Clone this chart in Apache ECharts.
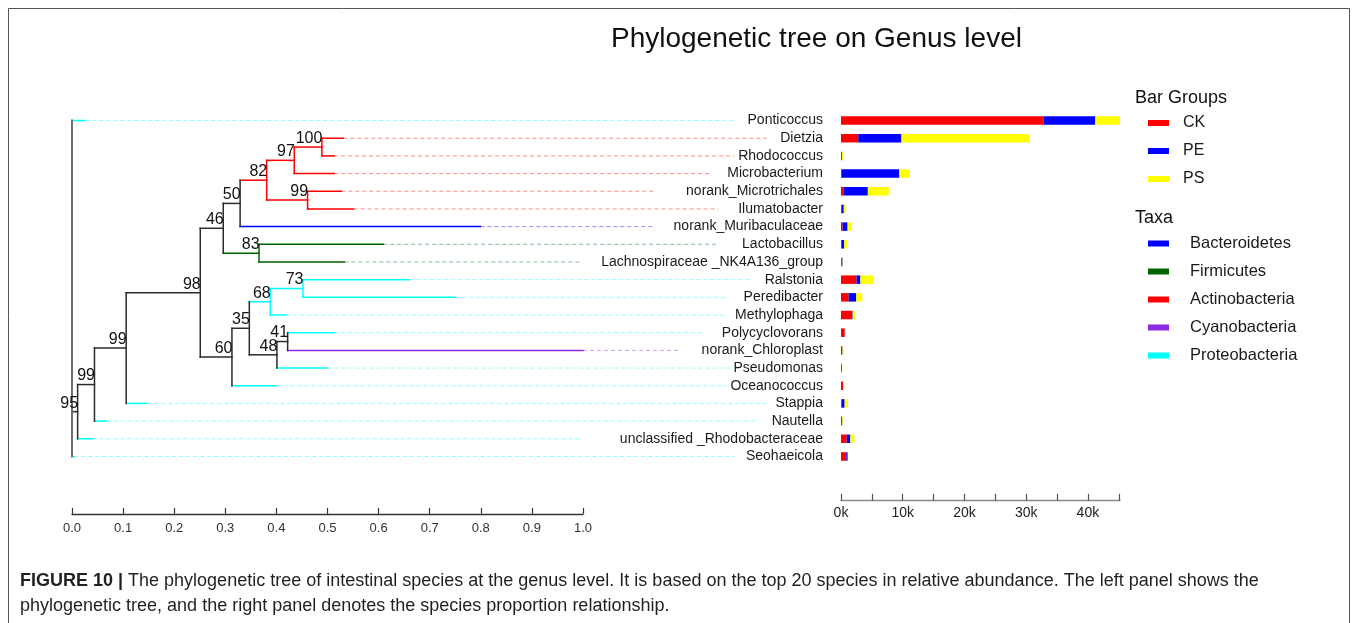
<!DOCTYPE html>
<html><head><meta charset="utf-8">
<script src="https://cdn.jsdelivr.net/npm/echarts@6/dist/echarts.min.js"></script>
<style>html,body{margin:0;padding:0;background:#fff}#c{width:1358px;height:623px}</style>
</head><body><div id="c"></div>
<script>
// ---------------- DATA ----------------
const genera = ['Ponticoccus','Dietzia','Rhodococcus','Microbacterium','norank_Microtrichales','Ilumatobacter',
  'norank_Muribaculaceae','Lactobacillus','Lachnospiraceae _NK4A136_group','Ralstonia','Peredibacter','Methylophaga',
  'Polycyclovorans','norank_Chloroplast','Pseudomonas','Oceanococcus','Stappia','Nautella',
  'unclassified _Rhodobacteraceae','Seohaeicola'];
const phyla = ['Proteobacteria','Actinobacteria','Actinobacteria','Actinobacteria','Actinobacteria','Actinobacteria',
  'Bacteroidetes','Firmicutes','Firmicutes','Proteobacteria','Proteobacteria','Proteobacteria',
  'Proteobacteria','Cyanobacteria','Proteobacteria','Proteobacteria','Proteobacteria','Proteobacteria',
  'Proteobacteria','Proteobacteria'];
const groupNames = ['CK','PE','PS'];
const ckValues = [32800, 2800, 150, 150, 450, 150, 270, 150, 100, 2500, 1240, 1670, 600, 200, 50, 320, 100, 50, 920, 860];
const peValues = [8400, 7000, 20, 9300, 3900, 300, 800, 380, 150, 650, 1240, 220, 30, 50, 100, 30, 490, 150, 600, 220];
const psValues = [4000, 20700, 150, 1700, 3400, 300, 600, 430, 50, 2150, 970, 430, 160, 150, 50, 160, 540, 100, 650, 20];
const taxaNames = ['Bacteroidetes','Firmicutes','Actinobacteria','Cyanobacteria','Proteobacteria'];
const treeTickStep = 0.1;
const barTickStep = 5000;
// tree: [bootstrap label, node distance, children]; leaves: [genus, branch end]
const tree = ['', 0.0, [
  ['Ponticoccus', 0.026],
  ['95', 0.011, [
    ['99', 0.044, [
      ['99', 0.106, [
        ['98', 0.251, [
          ['46', 0.296, [
            ['50', 0.329, [
              ['82', 0.381, [
                ['97', 0.435, [
                  ['100', 0.489, [['Dietzia', 0.531], ['Rhodococcus', 0.513]]],
                  ['Microbacterium', 0.513]]],
                ['99', 0.461, [['norank_Microtrichales', 0.527], ['Ilumatobacter', 0.551]]]]],
              ['norank_Muribaculaceae', 0.799]]],
            ['83', 0.366, [['Lactobacillus', 0.609], ['Lachnospiraceae _NK4A136_group', 0.533]]]]],
          ['60', 0.313, [
            ['35', 0.347, [
              ['68', 0.388, [
                ['73', 0.452, [['Ralstonia', 0.660], ['Peredibacter', 0.750]]],
                ['Methylophaga', 0.419]]],
              ['48', 0.401, [
                ['41', 0.422, [['Polycyclovorans', 0.513], ['norank_Chloroplast', 1.0]]],
                ['Pseudomonas', 0.500]]]]],
            ['Oceanococcus', 0.400]]]]],
        ['Stappia', 0.147]]],
      ['Nautella', 0.068]]],
    ['unclassified _Rhodobacteraceae', 0.040]]],
  ['Seohaeicola', 0.004]]];

// ---------------- STYLE / LAYOUT ----------------
const FONT = "'Liberation Sans', Arial, Helvetica, sans-serif";
const taxaColors = {Bacteroidetes:'#0000ff', Firmicutes:'#006400', Actinobacteria:'#ff0000', Cyanobacteria:'#8a2be2', Proteobacteria:'#00ffff'};
const groupColors = ['#ff0000', '#0000ff', '#ffff00'];
const gridTop = 111.7, gridHeight = 353.6;
const barLeft = 841, labelMargin = 18, charPx = 8.05;
const labelRightPx = barLeft - labelMargin;

// ---------------- TREE LAYOUT ----------------
const leafIndex = {}; genera.forEach((g, i) => leafIndex[g] = i);
const segs = {}; taxaNames.concat(['none']).forEach(t => segs[t] = []);
const boot = [];
function layout(node, parentX) {
  const name = node[0], x = node[1], children = node[2];
  if (!children) {
    const i = leafIndex[name], tx = phyla[i];
    segs[tx].push([parentX, i, x, i, 0, 0]);
    segs[tx].push([x, i, x, i, 2, name.length]);
    return {y: i, taxon: tx};
  }
  const res = children.map(c => layout(c, x));
  const y0 = res[0].y, y1 = res[res.length - 1].y, y = (y0 + y1) / 2;
  const set = new Set(res.map(r => r.taxon));
  const taxon = (set.size === 1 && !set.has(null)) ? res[0].taxon : null;
  const key = taxon || 'none';
  segs[key].push([x, y0, x, y1, parentX == null ? 3 : 1, 0]);
  if (parentX != null) segs[key].push([parentX, y, x, y, 0, 0]);
  if (name) boot.push([x, y, Number(name)]);
  return {y, taxon};
}
layout(tree, null);

function segRender(color) {
  return function (params, api) {
    const k = api.value(4);
    const p1 = api.coord([api.value(0), api.value(1)]);
    if (k === 2) {
      const endPx = labelRightPx - charPx * api.value(5);
      return {type: 'line', shape: {x1: p1[0], y1: p1[1], x2: endPx, y2: p1[1]},
        style: {stroke: color, opacity: 0.45, lineWidth: 1, lineDash: [4, 3]}};
    }
    const p2 = api.coord([api.value(2), api.value(3)]);
    return {type: 'line', shape: {x1: p1[0], y1: p1[1], x2: p2[0], y2: p2[1]},
      style: {stroke: k === 3 ? '#707070' : color, lineWidth: k === 3 ? 2 : 1.5, lineCap: 'square'}};
  };
}

const treeSeries = taxaNames.map(t => ({
  name: t, type: 'custom', xAxisIndex: 0, yAxisIndex: 0, clip: false, silent: true,
  itemStyle: {color: taxaColors[t]}, encode: {x: [0, 2], y: [1, 3]},
  renderItem: segRender(taxaColors[t]), data: segs[t]
}));
treeSeries.push({
  name: 'internal', type: 'custom', xAxisIndex: 0, yAxisIndex: 0, clip: false, silent: true,
  encode: {x: [0, 2], y: [1, 3]}, renderItem: segRender('#2b2b2b'), data: segs['none']
});
treeSeries.push({
  name: 'bootstrap', type: 'custom', xAxisIndex: 0, yAxisIndex: 0, clip: false, silent: true,
  encode: {x: 0, y: 1},
  renderItem: function (params, api) {
    const p = api.coord([api.value(0), api.value(1)]);
    return {type: 'text', x: p[0] + 0.5, y: p[1] - 0.5,
      style: {text: String(api.value(2)), align: 'right', verticalAlign: 'bottom',
        fontSize: 16, fontFamily: FONT, fill: '#111'}};
  },
  data: boot
});

const totals = genera.map((g, i) => ckValues[i] + peValues[i] + psValues[i]);
const barMax = Math.max.apply(null, totals);
const barData = [ckValues, peValues, psValues];
const barSeries = groupNames.map((g, gi) => ({
  name: g, type: 'bar', stack: 'total', xAxisIndex: 1, yAxisIndex: 1, barWidth: 8.5,
  itemStyle: {color: groupColors[gi]}, data: barData[gi], silent: true
}));

const chart = echarts.init(document.getElementById('c'), null, {renderer: 'canvas'});
chart.setOption({
  animation: false,
  backgroundColor: '#fff',
  textStyle: {fontFamily: FONT},
  title: [
    {text: 'Phylogenetic tree on Genus level', left: 611, top: 25, padding: 0,
      textStyle: {fontSize: 28, fontWeight: 'normal', color: '#111', fontFamily: FONT}},
    {text: 'Bar Groups', left: 1135, top: 89.5, padding: 0,
      textStyle: {fontSize: 18, fontWeight: 'normal', color: '#111', fontFamily: FONT}},
    {text: 'Taxa', left: 1135, top: 209.5, padding: 0,
      textStyle: {fontSize: 18, fontWeight: 'normal', color: '#111', fontFamily: FONT}},
    {text: '{b|FIGURE 10 |} The phylogenetic tree of intestinal species at the genus level. It is based on the top 20 species in relative abundance. The left panel shows the\nphylogenetic tree, and the right panel denotes the species proportion relationship.',
      left: 20, top: 568.5, padding: 0,
      textStyle: {fontSize: 18, fontWeight: 'normal', color: '#231f20', lineHeight: 25, fontFamily: FONT,
        rich: {b: {fontSize: 18, fontWeight: 'bold', color: '#231f20', lineHeight: 25, fontFamily: FONT}}}}
  ],
  legend: [
    {data: groupNames.map((g, i) => ({name: g, itemStyle: {color: groupColors[i]}})),
      left: 1148, top: 115, orient: 'vertical', icon: 'rect', itemWidth: 21, itemHeight: 6, itemGap: 12,
      padding: 0, selectedMode: false,
      textStyle: {fontSize: 16, color: '#1a1a1a', padding: [0, 0, 0, 9], fontFamily: FONT}},
    {data: taxaNames.map(t => ({name: t, itemStyle: {color: taxaColors[t]}})),
      left: 1148, top: 235, orient: 'vertical', icon: 'rect', itemWidth: 21, itemHeight: 6, itemGap: 11,
      padding: 0, selectedMode: false,
      textStyle: {fontSize: 16.5, color: '#1a1a1a', padding: [0, 0, 0, 16], fontFamily: FONT}}
  ],
  grid: [
    {left: 72, width: 511, top: gridTop, height: gridHeight, containLabel: false, outerBoundsMode: 'none'},
    {left: barLeft, width: 279, top: gridTop, height: gridHeight, containLabel: false, outerBoundsMode: 'none'}
  ],
  xAxis: [
    {type: 'value', gridIndex: 0, min: 0, max: 1, interval: treeTickStep, offset: 48.6,
      axisLine: {show: true, onZero: false, lineStyle: {color: '#333', width: 1.3}},
      axisTick: {show: true, inside: true, length: 6, lineStyle: {color: '#333', width: 1.2}},
      axisLabel: {fontSize: 13, color: '#333', margin: 8.5, formatter: v => v.toFixed(1), fontFamily: FONT,
        showMinLabel: true, showMaxLabel: true},
      splitLine: {show: false}},
    {type: 'value', gridIndex: 1, min: 0, max: barMax, interval: barTickStep, offset: 35.4,
      axisLine: {show: true, onZero: false, lineStyle: {color: '#888', width: 1.3}},
      axisTick: {show: true, inside: true, length: 7, lineStyle: {color: '#555', width: 1.2}},
      axisLabel: {fontSize: 14, color: '#222', margin: 5.5, fontFamily: FONT, showMaxLabel: false,
        formatter: v => (v % 10000 === 0 ? (v / 1000) + 'k' : '')},
      splitLine: {show: false}}
  ],
  yAxis: [
    {type: 'value', gridIndex: 0, min: -0.5, max: 19.5, inverse: true, show: false},
    {type: 'category', gridIndex: 1, data: genera, inverse: true,
      axisLine: {show: false}, axisTick: {show: false},
      axisLabel: {interval: 0, fontSize: 14, color: '#1a1a1a', margin: labelMargin, fontFamily: FONT},
      splitLine: {show: false}}
  ],
  graphic: [
    {type: 'rect', shape: {x: 8.5, y: 8.5, width: 1341, height: 640}, silent: true,
      style: {fill: 'none', stroke: '#555', lineWidth: 1}}
  ],
  series: treeSeries.concat(barSeries)
});
</script></body></html>
